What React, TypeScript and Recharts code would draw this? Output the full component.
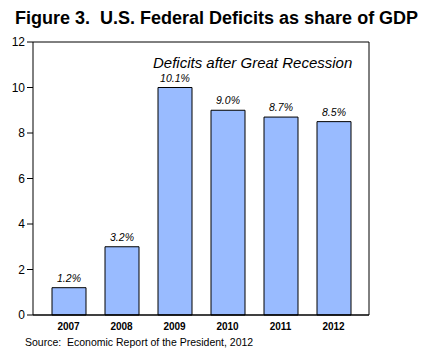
import React from "react";
import { BarChart, Bar, XAxis, YAxis, LabelList } from "recharts";

const years = ["2007", "2008", "2009", "2010", "2011", "2012"];
const deficits = [1.2, 3.0, 10.0, 9.0, 8.7, 8.5];
const deficitLabels = ["1.2%", "3.2%", "10.1%", "9.0%", "8.7%", "8.5%"];
const yTicks = [0, 2, 4, 6, 8, 10, 12];

const data = years.map((y, i) => ({ year: y, value: deficits[i], label: deficitLabels[i] }));

const FONT = "'Liberation Sans', Arial, sans-serif";

const renderLabel = (props: any) => {
  const { x, y, width, index } = props;
  return (
    <text
      x={x + width / 2}
      y={y - 6}
      textAnchor="middle"
      fontFamily={FONT}
      fontStyle="italic"
      fontSize={10.5}
      fill="#000"
    >
      {deficitLabels[index]}
    </text>
  );
};

export default function App() {
  return (
    <div style={{ position: "absolute", left: 0, top: 0, width: 426, height: 354, background: "#fff", fontFamily: FONT }}>
      <div
        style={{
          position: "absolute",
          left: 15,
          top: 9,
          fontSize: 18,
          lineHeight: "18px",
          fontWeight: "bold",
          whiteSpace: "nowrap",
          color: "#000",
        }}
      >
        Figure 3.&nbsp; U.S. Federal Deficits as share of GDP
      </div>
      <BarChart
        width={426}
        height={354}
        data={data}
        margin={{ top: 41, right: 56, bottom: 0, left: 0 }}
        barCategoryGap={0}
      >
        <XAxis
          dataKey="year"
          padding={{ left: 9, right: 9 }}
          tickLine={false}
          axisLine={{ stroke: "#000", strokeWidth: 1.5 }}
          tick={{ fontSize: 10, fontWeight: "bold", fill: "#000", fontFamily: FONT }}
          height={39}
          interval={0}
        />
        <XAxis
          xAxisId="t"
          dataKey="year"
          orientation="top"
          padding={{ left: 9, right: 9 }}
          tick={false}
          tickLine={false}
          axisLine={{ stroke: "#000" }}
          height={1}
        />
        <YAxis
          domain={[0, 12]}
          ticks={yTicks}
          width={33}
          tickSize={6}
          tickMargin={2}
          tickLine={{ stroke: "#000" }}
          axisLine={{ stroke: "#000" }}
          tick={{ fontSize: 12, fill: "#000", fontFamily: FONT }}
          interval={0}
        />
        <YAxis
          yAxisId="r"
          orientation="right"
          domain={[0, 12]}
          tick={false}
          tickLine={false}
          axisLine={{ stroke: "#000" }}
          width={1}
        />
        <Bar dataKey="value" fill="#99BBFF" stroke="#000" strokeWidth={1} barSize={34} isAnimationActive={false}>
          <LabelList dataKey="label" content={renderLabel} />
        </Bar>
      </BarChart>
      <div
        style={{
          position: "absolute",
          left: 153,
          top: 55,
          fontSize: 15,
          lineHeight: "15px",
          fontStyle: "italic",
          whiteSpace: "nowrap",
          color: "#000",
        }}
      >
        Deficits after Great Recession
      </div>
      <div
        style={{
          position: "absolute",
          left: 25,
          top: 337,
          fontSize: 10.5,
          lineHeight: "11px",
          whiteSpace: "nowrap",
          color: "#000",
        }}
      >
        Source:&nbsp; Economic Report of the President, 2012
      </div>
    </div>
  );
}
